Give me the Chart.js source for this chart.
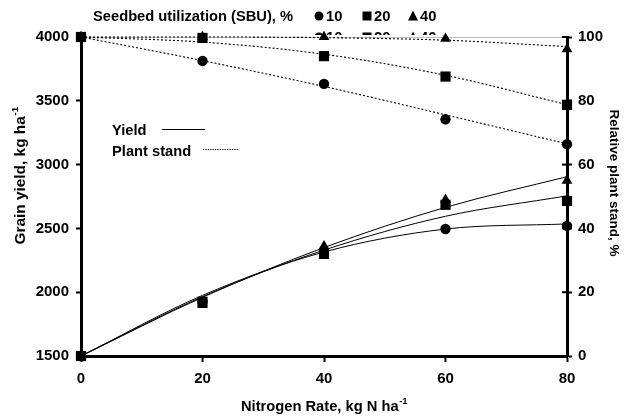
<!DOCTYPE html>
<html><head><meta charset="utf-8">
<script src="https://cdn.jsdelivr.net/npm/chart.js@4"></script>
<style>html,body{margin:0;padding:0;background:#fff}#wrap{width:624px;height:417px;position:relative}</style>
</head><body><div id="wrap"><canvas id="c" width="624" height="417"></canvas></div>
<script>
// ---- data ----
const nitrogenRates = [0, 20, 40, 60, 80];
const sbuLabels = ['10', '20', '40'];
// grain yield observations (kg/ha)
const yieldObs10 = [1500, 1925, 2325, 2495, 2520];
const yieldObs20 = [1500, 1925, 2300, 2685, 2715];
const yieldObs40 = [1500, 1900, 2360, 2725, 2875];
// fitted yield curves (kg/ha)
const yieldFit10 = [1500, 1975, 2315, 2495, 2535];
const yieldFit20 = [1500, 1965, 2330, 2595, 2755];
const yieldFit40 = [1500, 1960, 2350, 2665, 2905];
// relative plant stand observations (%)
const standObs10 = [100, 92.5, 85.3, 74.2, 66.4];
const standObs20 = [100, 99.7, 94.0, 87.6, 78.7];
const standObs40 = [100, 100, 100, 99.5, 96.2];
// fitted plant stand curves (%)
const standFit10 = [100, 92.6, 84.5, 75.6, 66.5];
const standFit20 = [100, 98.4, 94.6, 88.0, 78.8];
const standFit40 = [100, 100, 99.8, 99.0, 97.0];
// axis ticks
const xTicks = [0, 20, 40, 60, 80];
const yieldTicks = [1500, 2000, 2500, 3000, 3500, 4000];
const standTicks = [0, 20, 40, 60, 80, 100];

const FONT = '"Liberation Sans", Arial, sans-serif';
Chart.defaults.font.family = FONT;
Chart.defaults.font.size = 15;
Chart.defaults.font.weight = 'bold';
Chart.defaults.color = '#000';

const pts = arr => nitrogenRates.map((x, i) => ({x: x, y: arr[i]}));
const markerStyle = {circle: {pointStyle: 'circle', r: 5.2}, rect: {pointStyle: 'rect', r: 7.2}, triangle: {pointStyle: 'triangle', r: 6.2}};

function obs(arr, style, axis, order) {
  return {data: pts(arr), yAxisID: axis, showLine: false, pointStyle: markerStyle[style].pointStyle,
    pointRadius: markerStyle[style].r, pointBackgroundColor: '#000', pointBorderColor: '#000', pointBorderWidth: 0,
    clip: false, order: order};
}
function fit(arr, axis, dashed) {
  return {data: pts(arr), yAxisID: axis, showLine: true, pointRadius: 0, borderColor: '#000',
    borderWidth: dashed ? 1.1 : 1, borderDash: dashed ? [2, 2] : [], cubicInterpolationMode: 'monotone',
    clip: false, order: 10};
}

const tickSet = vals => function(scale) { scale.ticks = vals.map(v => ({value: v})); };
const plain = v => String(v);
const STRETCH = 1.05;

const extras = {
  id: 'extras',
  afterDraw(chart) {
    const ctx = chart.ctx;
    const y1 = chart.scales.y1, x = chart.scales.x;
    ctx.save();
    // inner half of the right-axis tick marks (cross style)
    ctx.strokeStyle = '#000'; ctx.lineWidth = 2;
    standTicks.forEach(v => {
      const py = y1.getPixelForValue(v);
      ctx.beginPath(); ctx.moveTo(y1.left - 5, py); ctx.lineTo(y1.left, py); ctx.stroke();
    });
    // stretched text helper
    function stext(str, px, py, size) {
      ctx.save();
      ctx.font = 'bold ' + size + 'px ' + FONT;
      ctx.translate(px, py); ctx.scale(STRETCH, 1);
      ctx.textAlign = 'left'; ctx.fillStyle = '#000';
      ctx.fillText(str, 0, 0);
      ctx.restore();
    }
    // axis titles
    function title(main, sup, cx, cy, rot, size, st) {
      ctx.save(); ctx.translate(cx, cy); ctx.rotate(rot); ctx.scale(st, 1);
      ctx.font = 'bold ' + size + 'px ' + FONT; const w1 = ctx.measureText(main).width;
      ctx.font = 'bold 9px ' + FONT; const w2 = sup ? ctx.measureText(sup).width : 0;
      const sx = -(w1 + w2) / 2;
      ctx.fillStyle = '#000'; ctx.textBaseline = 'middle'; ctx.textAlign = 'left';
      ctx.font = 'bold ' + size + 'px ' + FONT; ctx.fillText(main, sx, 0);
      if (sup) { ctx.font = 'bold 9px ' + FONT; ctx.fillText(sup, sx + w1 + 0.5, -5); }
      ctx.restore();
    }
    title('Nitrogen Rate, kg N ha', '-1', (x.left + x.right) / 2, 407, 0, 14, STRETCH);
    title('Grain yield, kg ha', '-1', 21, 176, -Math.PI / 2, 14, 1.1);
    title('Relative plant stand, %', '', 614, 183, Math.PI / 2, 13.5, 1.0);

    // top legend
    function marker(kind, cx, cy, s) {
      ctx.fillStyle = '#000'; ctx.beginPath();
      if (kind === 'circle') ctx.arc(cx, cy, s / 2, 0, Math.PI * 2);
      else if (kind === 'rect') ctx.rect(cx - s / 2, cy - s / 2, s, s);
      else { ctx.moveTo(cx, cy - s / 2 - 1); ctx.lineTo(cx + s / 2 + 0.5, cy + s / 2); ctx.lineTo(cx - s / 2 - 0.5, cy + s / 2); ctx.closePath(); }
      ctx.fill();
    }
    function legendRow(baseY) {
      ctx.textBaseline = 'alphabetic';
      stext('Seedbed utilization (SBU), %', 93, baseY, 14);
      const kinds = ['circle', 'rect', 'triangle'], mx = [319, 367, 413];
      kinds.forEach((k, i) => {
        marker(k, mx[i], baseY - 5, 9);
        stext(sbuLabels[i], mx[i] + 7, baseY, 14);
      });
    }
    legendRow(21);
    ctx.save(); ctx.beginPath(); ctx.rect(300, 29, 150, 6); ctx.clip(); legendRow(42); ctx.restore();

    // inner line legend
    ctx.textBaseline = 'alphabetic';
    stext('Yield', 112, 135, 14);
    stext('Plant stand', 112, 156, 14);
    ctx.strokeStyle = '#000'; ctx.lineWidth = 1;
    ctx.beginPath(); ctx.moveTo(162, 129.5); ctx.lineTo(205, 129.5); ctx.stroke();
    ctx.setLineDash([1.2, 1.2]);
    ctx.beginPath(); ctx.moveTo(203, 149.5); ctx.lineTo(238, 149.5); ctx.stroke();
    ctx.restore();
  }
};

new Chart(document.getElementById('c'), {
  type: 'line',
  data: {datasets: [
    fit(yieldFit10, 'y', false), fit(yieldFit20, 'y', false), fit(yieldFit40, 'y', false),
    fit(standFit10, 'y1', true), fit(standFit20, 'y1', true), fit(standFit40, 'y1', true),
    obs(yieldObs40, 'triangle', 'y', 3), obs(yieldObs10, 'circle', 'y', 2), obs(yieldObs20, 'rect', 'y', 1),
    obs(standObs40, 'triangle', 'y1', 3), obs(standObs10, 'circle', 'y1', 2), obs(standObs20, 'rect', 'y1', 1)
  ]},
  options: {
    responsive: false, animation: false, devicePixelRatio: 1,
    layout: {padding: {top: 37, left: 0, right: 0, bottom: 0}},
    plugins: {legend: {display: false}, tooltip: {enabled: false}},
    scales: {
      x: {type: 'linear', min: 0, max: 80, afterBuildTicks: tickSet(xTicks),
        ticks: {padding: 8, maxRotation: 0, callback: plain},
        grid: {drawOnChartArea: false, tickLength: 6, tickColor: '#000', tickWidth: 2},
        border: {color: '#000', width: 3},
        afterFit(s) { s.height = 61; }},
      y: {type: 'linear', position: 'left', min: 1500, max: 4000, afterBuildTicks: tickSet(yieldTicks),
        ticks: {padding: 7, callback: plain},
        grid: {color: c => (c.tick && c.tick.value === 4000) ? '#bdbdbd' : 'rgba(0,0,0,0)', lineWidth: 1,
          tickLength: 5, tickColor: '#000', tickWidth: 2},
        border: {color: '#000', width: 3},
        afterFit(s) { s.width = 81; }},
      y1: {type: 'linear', position: 'right', min: 0, max: 100, afterBuildTicks: tickSet(standTicks),
        ticks: {padding: 6, callback: plain},
        grid: {drawOnChartArea: false, tickLength: 5, tickColor: '#000', tickWidth: 2},
        border: {color: '#000', width: 3},
        afterFit(s) { s.width = 57; }}
    }
  },
  plugins: [extras]
});
</script></body></html>
